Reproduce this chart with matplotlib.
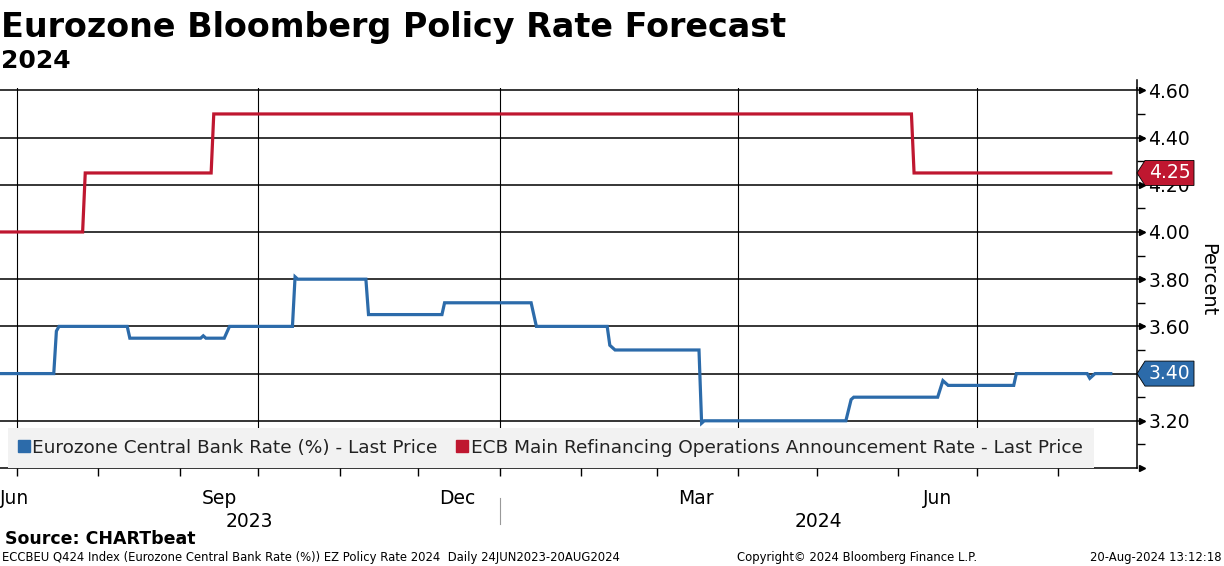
#!/usr/bin/env python3
"""
Eurozone Bloomberg Policy Rate Forecast 2024 - Bloomberg 스타일 차트 재현
"""

import matplotlib
matplotlib.use("Agg")
import matplotlib.pyplot as plt
import matplotlib.dates as mdates
from matplotlib.lines import Line2D
from matplotlib.patches import Polygon
import pandas as pd

# 데이터
blue_dates = ["2023-06-24", "2023-07-15", "2023-07-16", "2023-07-17", "2023-08-12",
              "2023-08-13", "2023-09-09", "2023-09-10", "2023-09-11", "2023-09-18",
              "2023-09-20", "2023-10-14", "2023-10-15", "2023-10-16", "2023-11-11",
              "2023-11-12", "2023-12-10", "2023-12-11", "2024-01-13", "2024-01-15",
              "2024-02-11", "2024-02-12", "2024-02-14", "2024-03-17", "2024-03-18",
              "2024-03-19", "2024-05-12", "2024-05-14", "2024-05-15", "2024-06-16",
              "2024-06-18", "2024-06-20", "2024-07-15", "2024-07-16", "2024-08-12",
              "2024-08-13", "2024-08-15", "2024-08-21"]
blue_values = [3.40, 3.40, 3.58, 3.60, 3.60,
               3.55, 3.55, 3.56, 3.55, 3.55,
               3.60, 3.60, 3.81, 3.80, 3.80,
               3.65, 3.65, 3.70, 3.70, 3.60,
               3.60, 3.52, 3.50, 3.50, 3.19,
               3.20, 3.20, 3.29, 3.30, 3.30,
               3.37, 3.35, 3.35, 3.40, 3.40,
               3.38, 3.40, 3.40]

red_dates = ["2023-06-24", "2023-07-26", "2023-07-27", "2023-09-13", "2023-09-14",
             "2024-06-06", "2024-06-07", "2024-08-21"]
red_values = [4.00, 4.00, 4.25, 4.25, 4.50, 4.50, 4.25, 4.25]

blue_label = "Eurozone Central Bank Rate (%) - Last Price"
red_label = "ECB Main Refinancing Operations Announcement Rate - Last Price"

y_ticks = [3.2, 3.4, 3.6, 3.8, 4.0, 4.2, 4.4, 4.6]
month_labels = ["Jun", "Sep", "Dec", "Mar", "Jun"]
month_label_dates = ["2023-06-25", "2023-09-16", "2023-12-16", "2024-03-16", "2024-06-16"]
quarter_lines = ["2023-07-01", "2023-10-01", "2024-01-01", "2024-04-01", "2024-07-01"]
year_labels = ["2023", "2024"]

BLUE = "#2c6baa"
RED = "#bf1730"

fig = plt.figure(figsize=(12.24, 5.66), dpi=100)
ax = fig.add_axes([0.0, 1 - 468 / 566, 1137 / 1224, 380 / 566])

bd = pd.to_datetime(blue_dates)
rd = pd.to_datetime(red_dates)
ax.plot(rd, red_values, color=RED, lw=2.3, zorder=4, solid_joinstyle="miter")
ax.plot(bd, blue_values, color=BLUE, lw=2.3, zorder=4, solid_joinstyle="miter")

x0 = pd.Timestamp("2023-06-24 12:00")
x1 = pd.Timestamp("2024-08-31")
ax.set_xlim(x0, x1)
ax.set_ylim(3.0, 4.61)

# 격자선
for v in y_ticks:
    ax.axhline(v, color="black", lw=1.1, zorder=1)
for d in quarter_lines:
    ax.axvline(pd.Timestamp(d), color="black", lw=0.8, zorder=1)

# 축 스타일
for s in ["left", "top"]:
    ax.spines[s].set_visible(False)
ax.spines["right"].set_linewidth(1.1)
ax.spines["bottom"].set_linewidth(1.1)

ax.yaxis.tick_right()
ax.set_yticks(y_ticks)
ax.set_yticklabels([f"{v:.2f}" for v in y_ticks])
ax.set_yticks([3.1, 3.3, 3.5, 3.7, 3.9, 4.1, 4.3, 4.5], minor=True)
ax.tick_params(axis="y", which="major", direction="out", length=6, width=1.1,
               labelsize=13.5, pad=2)
ax.tick_params(axis="y", which="minor", direction="out", length=6, width=1.0)

ax.xaxis.set_major_locator(mdates.MonthLocator())
ax.set_xticklabels([])
ax.tick_params(axis="x", which="major", direction="out", length=6, width=1.0,
               labelbottom=False)

# 주요 눈금 화살표 모양
ytr = ax.get_yaxis_transform()
ax.plot([1.004] * len(y_ticks), y_ticks, marker=">", ms=4, color="black", ls="none",
        transform=ytr, clip_on=False, zorder=6)
ax.plot([1.0, 1.0], [4.61, 4.645], color="black", lw=1.1, transform=ytr, clip_on=False)
ax.plot([1.004], [3.0], marker=">", ms=4, color="black", transform=ytr, clip_on=False)

# 월 / 연도 라벨
xtr = ax.get_xaxis_transform()
for i, (lab, d) in enumerate(zip(month_labels, month_label_dates)):
    if i == 0:
        ax.text(x0, -0.055, lab, transform=xtr, ha="left", va="top", fontsize=13.5)
    else:
        ax.text(pd.Timestamp(d), -0.055, lab, transform=xtr, ha="center", va="top",
                fontsize=13.5)
jan = pd.Timestamp("2024-01-01")
ax.text(x0 + (jan - x0) / 2, -0.115, year_labels[0], transform=xtr, ha="center",
        va="top", fontsize=13.5)
ax.text(jan + (x1 - jan) / 2, -0.115, year_labels[1], transform=xtr, ha="center",
        va="top", fontsize=13.5)
ax.plot([jan, jan], [-0.08, -0.148], color="#999999", lw=0.8, transform=xtr,
        clip_on=False)

# 범례
handles = [Line2D([], [], marker="s", ls="none", color=BLUE, ms=8.5),
           Line2D([], [], marker="s", ls="none", color=RED, ms=8.5)]
leg = ax.legend(handles, [blue_label, red_label], ncol=2, loc="lower left",
                bbox_to_anchor=(8 / 1137, 0.0), borderaxespad=0.0,
                fontsize=13.3, handlelength=0.5, handletextpad=0.2,
                columnspacing=1.1, frameon=True, fancybox=False,
                borderpad=0.6)
leg.get_frame().set_facecolor("#f2f2f2")
leg.get_frame().set_edgecolor("none")
leg.get_frame().set_alpha(1)
leg.set_zorder(3)
for t in leg.get_texts():
    t.set_color("#222222")

# 마지막 값 태그
def value_tag(value, color):
    h = 12.5 / 236
    w = 57 / 1137
    tip = 8 / 1137
    pts = [(1.0, value), (1.0 + tip, value + h), (1.0 + w, value + h),
           (1.0 + w, value - h), (1.0 + tip, value - h)]
    poly = Polygon(pts, closed=True, facecolor=color, edgecolor="black", lw=0.6,
                   transform=ytr, clip_on=False, zorder=10)
    ax.add_patch(poly)
    ax.text(1.0 + tip + (w - tip) / 2, value, f"{value:.2f}", transform=ytr,
            color="white", fontsize=13.5, ha="center", va="center", zorder=11)

value_tag(red_values[-1], RED)
value_tag(blue_values[-1], BLUE)

# 제목 및 텍스트
fig.text(0.001, 1 - 37 / 566, "Eurozone Bloomberg Policy Rate Forecast",
         fontsize=24, fontweight="bold", va="baseline")
fig.text(0.001, 1 - 68 / 566, "2024", fontsize=18, fontweight="bold", va="baseline")
fig.text(1208 / 1224, 1 - 280 / 566, "Percent", rotation=270, fontsize=14,
         ha="center", va="center")
fig.text(5 / 1224, 1 - 544 / 566, "Source: CHARTbeat", fontsize=12.5,
         fontweight="bold", va="baseline")
fig.text(2 / 1224, 1 - 561 / 566,
         "ECCBEU Q424 Index (Eurozone Central Bank Rate (%)) EZ Policy Rate 2024  Daily 24JUN2023-20AUG2024",
         fontsize=8.4, va="baseline")
fig.text(737 / 1224, 1 - 561 / 566, "Copyright\u00a9 2024 Bloomberg Finance L.P.",
         fontsize=8.4, va="baseline")
fig.text(1221 / 1224, 1 - 561 / 566, "20-Aug-2024 13:12:18", fontsize=8.4,
         va="baseline", ha="right")

fig.savefig("out.png", dpi=100)
